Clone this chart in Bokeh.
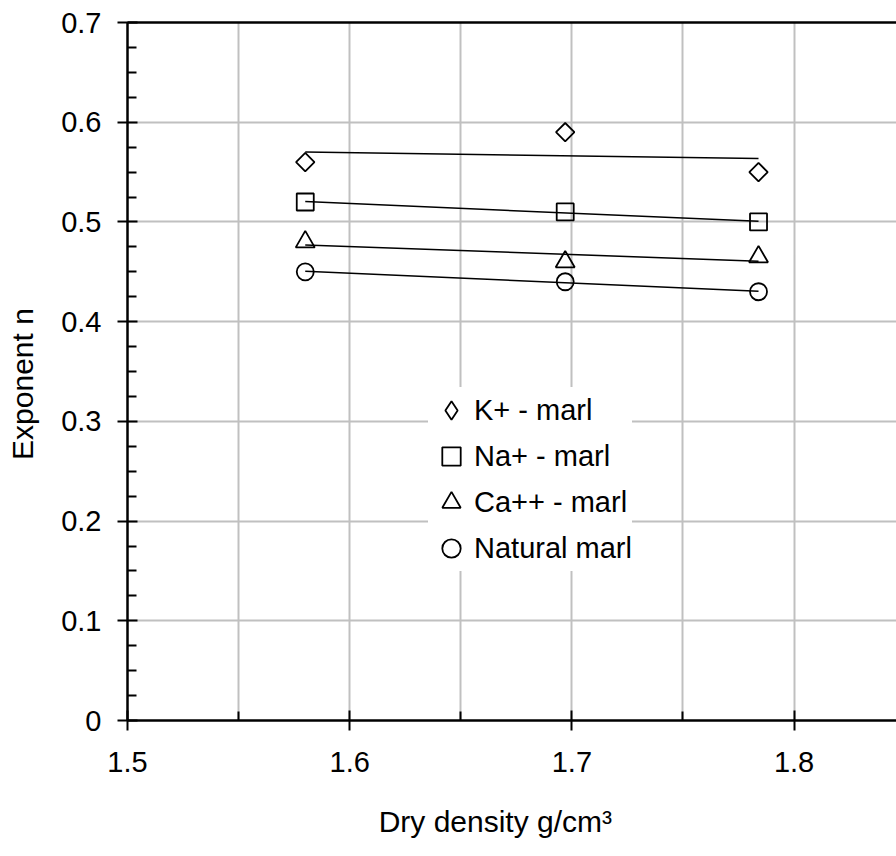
import numpy as np
from bokeh.plotting import figure
from bokeh.models import Range1d, FixedTicker, LinearAxis, Legend, LegendItem
from bokeh.embed import file_html
from bokeh.resources import INLINE

# ---- data ----
density = [1.580, 1.697, 1.784]
k_marl = [0.56, 0.59, 0.55]
na_marl = [0.52, 0.51, 0.50]
ca_marl = [0.48, 0.46, 0.465]
natural_marl = [0.45, 0.44, 0.43]

series_names = ["K+ - marl", "Na+ - marl", "Ca++ - marl", "Natural marl"]

x_ticks = [1.5, 1.6, 1.7, 1.8]
x_tick_labels = ["1.5", "1.6", "1.7", "1.8"]
y_ticks = [0, 0.1, 0.2, 0.3, 0.4, 0.5, 0.6, 0.7]
y_tick_labels = ["0", "0.1", "0.2", "0.3", "0.4", "0.5", "0.6", "0.7"]

FONT = "Liberation Sans"
GRID = "#c0c0c0"

p = figure(width=896, height=856, output_backend="svg", toolbar_location=None,
           x_range=Range1d(1.5, 1.8461), y_range=Range1d(0, 0.7),
           min_border_left=127, min_border_right=0, min_border_top=22,
           min_border_bottom=136,
           x_axis_label="Dry density g/cm\u00b3" + "\u00a0" * 4,
           y_axis_label="Exponent  n" + "\u00a0" * 2)
p.outline_line_color = None
p.background_fill_color = "white"
p.border_fill_color = "white"

# tickers
x_minor = [a + (b - a) / 2 for a, b in zip(x_ticks, x_ticks[1:] + [x_ticks[-1] + 0.1])]
y_minor = [a + (b - a) * k / 4 for a, b in zip(y_ticks[:-1], y_ticks[1:]) for k in (1, 2, 3)]
xt = FixedTicker(ticks=x_ticks, minor_ticks=x_minor)
yt = FixedTicker(ticks=y_ticks, minor_ticks=y_minor)
p.xaxis[0].ticker = xt
p.yaxis[0].ticker = yt
p.xaxis[0].major_label_overrides = dict(zip(x_ticks, x_tick_labels))
p.yaxis[0].major_label_overrides = dict(zip(y_ticks, y_tick_labels))

for ax in (p.xaxis[0], p.yaxis[0]):
    ax.axis_line_width = 2.5
    ax.axis_line_color = "black"
    ax.major_tick_line_width = 2
    ax.minor_tick_line_width = 2
    ax.major_tick_line_color = "black"
    ax.minor_tick_line_color = "black"
    ax.major_tick_in = 10
    ax.major_tick_out = 10
    ax.minor_tick_in = 9
    ax.minor_tick_out = 0
    ax.major_label_text_font = FONT
    ax.major_label_text_font_size = "29px"
    ax.major_label_text_color = "black"
    ax.axis_label_text_font = FONT
    ax.axis_label_text_font_size = "30px"
    ax.axis_label_text_font_style = "normal"
    ax.axis_label_text_color = "black"

p.xaxis[0].major_label_standoff = 21
p.xaxis[0].axis_label_standoff = 30
p.yaxis[0].major_label_standoff = 16
p.yaxis[0].axis_label_standoff = 19

top = LinearAxis(ticker=FixedTicker(ticks=[]), axis_line_width=2.5, axis_line_color="black",
                 major_tick_line_color=None, minor_tick_line_color=None)
p.add_layout(top, "above")

p.xgrid.ticker = xt
p.ygrid.ticker = yt
p.xgrid.grid_line_color = GRID
p.xgrid.grid_line_width = 2
p.xgrid.minor_grid_line_color = GRID
p.xgrid.minor_grid_line_width = 2
p.ygrid.grid_line_color = GRID
p.ygrid.grid_line_width = 2

style = dict(fill_color=None, line_color="black", line_width=1.8)

r_k = p.scatter(density, k_marl, marker="square", angle=np.pi / 4, size=13, **style)
r_na = p.scatter(density, na_marl, marker="square", size=17, **style)
r_ca = p.scatter(density, ca_marl, marker="triangle", size=19, **style)
r_nat = p.scatter(density, natural_marl, marker="circle", size=17, **style)

# legend proxy for the diamond (legend markers are drawn unrotated)
r_k_leg = p.scatter(density, k_marl, marker="diamond", size=20, visible=False, **style)

# linear trend lines (least squares, as in the source chart)
for vals in (k_marl, na_marl, ca_marl, natural_marl):
    coef = np.polyfit(density, vals, 1)
    xs = [density[0], density[-1]]
    p.line(xs, list(np.polyval(coef, xs)), line_color="black", line_width=1.5)

legend = Legend(
    items=[LegendItem(label=n, renderers=[r]) for n, r in
           zip(series_names, [r_k_leg, r_na, r_ca, r_nat])],
    location=(301, 149), orientation="vertical",
    glyph_width=46, glyph_height=46, label_standoff=-6, spacing=0, padding=2, margin=0,
    label_text_font=FONT, label_text_font_size="29px", label_text_color="black",
    background_fill_color="white", background_fill_alpha=1.0, border_line_color=None)
p.add_layout(legend)

open("out.html", "w").write(file_html(p, INLINE))
